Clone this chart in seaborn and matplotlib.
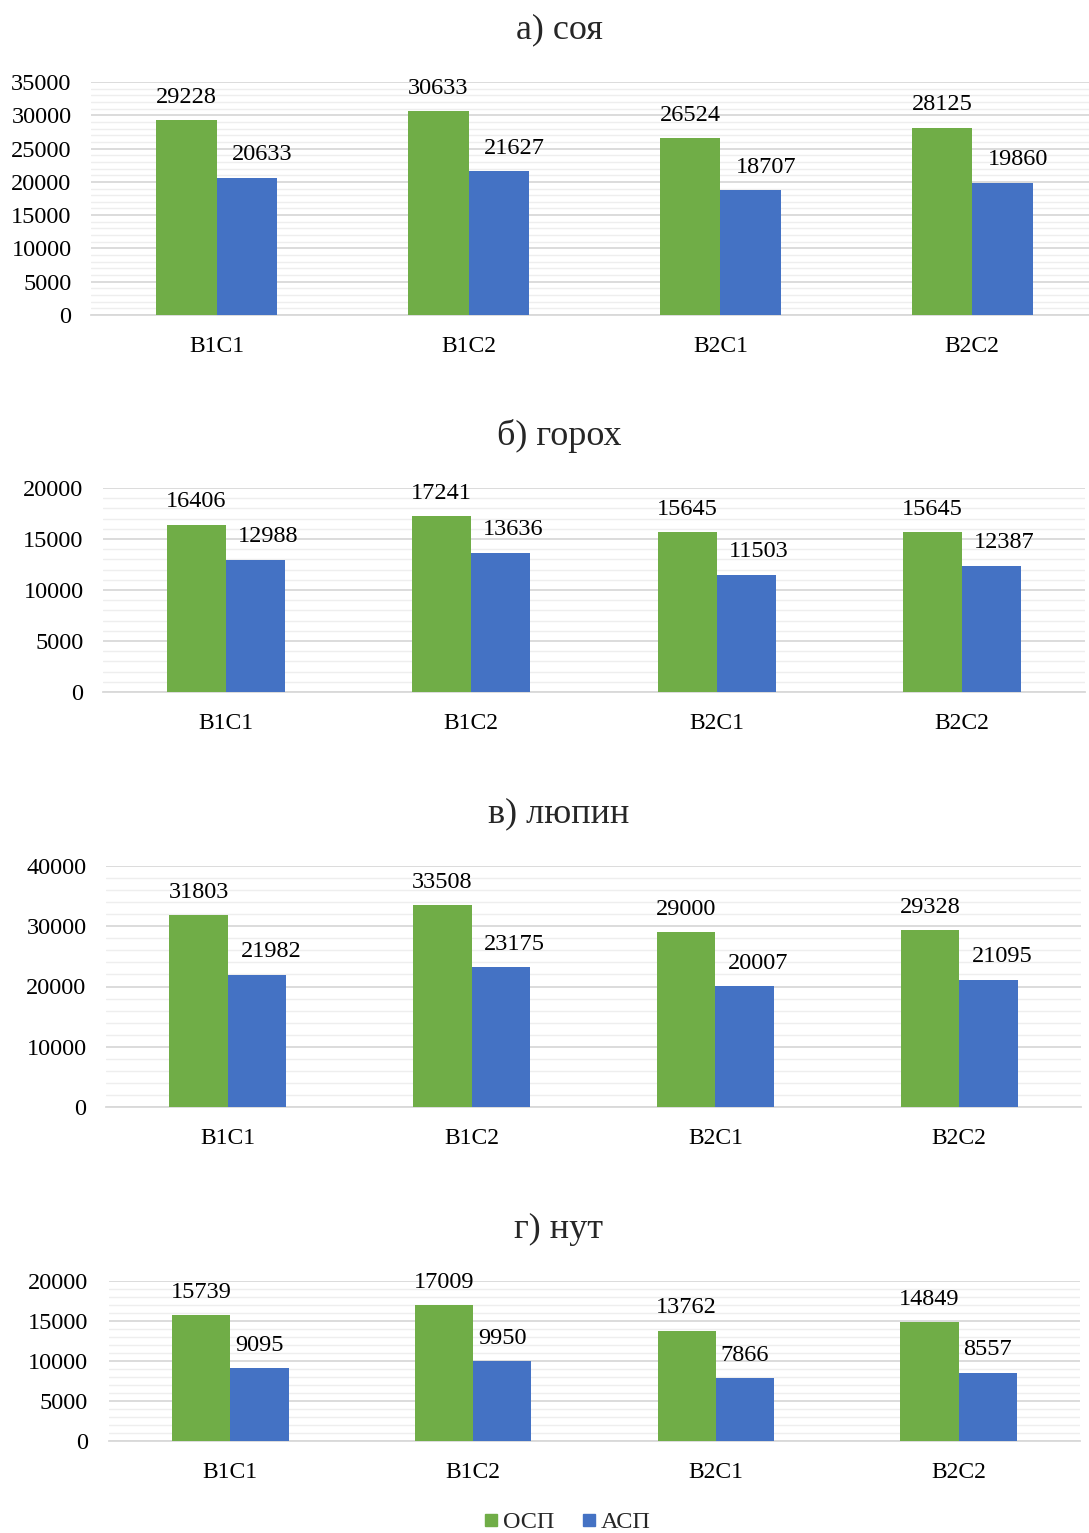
import matplotlib
matplotlib.use("Agg")
import matplotlib.pyplot as plt
from matplotlib.ticker import MultipleLocator
from matplotlib.lines import Line2D
import seaborn as sns
import pandas as pd

# ---- data ----
categories = ["B1C1", "B1C2", "B2C1", "B2C2"]
series = ["ОСП", "АСП"]
titles = ["а) соя", "б) горох", "в) люпин", "г) нут"]

soy_osp = [29228, 30633, 26524, 28125]
soy_asp = [20633, 21627, 18707, 19860]
pea_osp = [16406, 17241, 15645, 15645]
pea_asp = [12988, 13636, 11503, 12387]
lupin_osp = [31803, 33508, 29000, 29328]
lupin_asp = [21982, 23175, 20007, 21095]
chickpea_osp = [15739, 17009, 13762, 14849]
chickpea_asp = [9095, 9950, 7866, 8557]

panels = [
    (soy_osp, soy_asp, 35000, 5000),
    (pea_osp, pea_asp, 20000, 5000),
    (lupin_osp, lupin_asp, 40000, 10000),
    (chickpea_osp, chickpea_asp, 20000, 5000),
]

# ---- style ----
sns.set_theme(style="white")
plt.rcParams["font.family"] = ["Liberation Serif", "DejaVu Serif"]
colors = ["#70ad47", "#4472c4"]

W, H = 1089, 1533
fig = plt.figure(figsize=(W / 100, H / 100), dpi=100)

# axes boxes in pixels: left, right, top, bottom
boxes = [
    (91, 1098, 82, 315),
    (103, 1085, 488, 692),
    (106, 1081, 866, 1107),
    (109, 1080, 1281, 1441),
]
title_y = [30, 436, 814, 1229]
ytick_pad = [14, 14, 14, 15]
blue_label_dx = [11, 9, 10, 0]  # points

for i, ((osp, asp, ymax, step), (l, r, t, b)) in enumerate(zip(panels, boxes)):
    ax = fig.add_axes([l / W, 1 - b / H, (r - l) / W, (b - t) / H])
    df = pd.DataFrame({
        "cat": categories * 2,
        "series": [series[0]] * 4 + [series[1]] * 4,
        "value": list(osp) + list(asp),
    })
    sns.barplot(data=df, x="cat", y="value", hue="series", order=categories,
                hue_order=series, palette=colors, width=0.48, saturation=1,
                legend=False, ax=ax, zorder=3, edgecolor="none", linewidth=0)
    ax.set_xlim(-0.5, 3.5)
    ax.set_ylim(0, ymax)
    ax.yaxis.set_major_locator(MultipleLocator(step))
    ax.yaxis.set_minor_locator(MultipleLocator(step / 5))
    ax.grid(axis="y", which="major", color="#d9d9d9", linewidth=1.3, zorder=0)
    ax.grid(axis="y", which="minor", color="#eeeeee", linewidth=1.0, zorder=0)
    ax.set_axisbelow(True)
    for s in ["top", "right", "left"]:
        ax.spines[s].set_visible(False)
    ax.spines["bottom"].set_color("#d9d9d9")
    ax.spines["bottom"].set_linewidth(1.3)
    ax.set_xlabel("")
    ax.set_ylabel("")
    ax.tick_params(axis="both", which="both", length=0, colors="black")
    ax.tick_params(axis="y", pad=ytick_pad[i], labelsize=17.5)
    ax.tick_params(axis="x", pad=15, labelsize=17)

    for j, cont in enumerate(ax.containers):
        for patch in cont:
            v = patch.get_height()
            ax.annotate(f"{int(round(v))}",
                        xy=(patch.get_x() + patch.get_width() / 2, v),
                        xytext=(blue_label_dx[i] if j == 1 else 0, 16.5),
                        textcoords="offset points", ha="center", va="center",
                        fontsize=17.5, color="black", zorder=5)

    fig.text(559 / W, 1 - title_y[i] / H, titles[i], ha="center", va="center",
             fontsize=26)

handles = [Line2D([0], [0], marker="s", linestyle="none", markersize=9,
                  markerfacecolor=c, markeredgecolor=c) for c in colors]
fig.legend(handles, series, loc="center", bbox_to_anchor=(566 / W, 1 - 1522 / H),
           ncol=2, frameon=False, fontsize=17.5, handletextpad=0.1,
           columnspacing=1.0, handlelength=0.8)

fig.savefig("out.png", dpi=100)
